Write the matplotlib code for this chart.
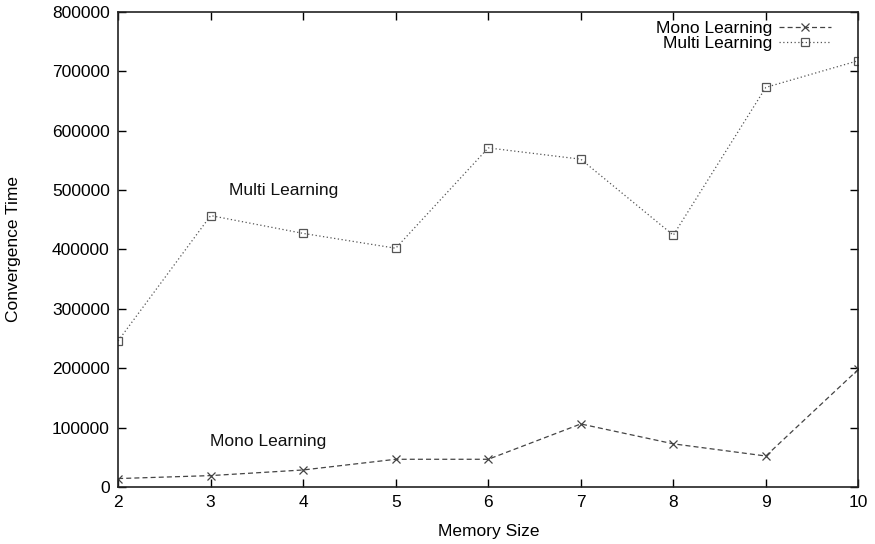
import matplotlib
matplotlib.use("Agg")
import matplotlib.pyplot as plt

plt.rcParams['font.family'] = ['Liberation Sans', 'DejaVu Sans']

memory_size = [2, 3, 4, 5, 6, 7, 8, 9, 10]
mono_time = [14000, 19000, 28500, 46500, 46500, 106000, 72500, 52000, 198000]
multi_time = [246000, 457000, 427000, 402000, 571000, 552000, 424000, 673000, 718000]

fs = 12.5

fig = plt.figure(figsize=(8.75, 5.44), dpi=100)
ax = fig.add_axes([0.135, 0.105, 0.846, 0.873])

ax.plot(memory_size, mono_time, color='#444444', lw=0.9, dashes=(4, 2.5),
        marker='x', ms=6, mew=0.9, label='Mono Learning')
ax.plot(memory_size, multi_time, color='#555555', lw=0.9, dashes=(1, 2),
        marker='s', ms=6, mew=0.9, mfc='none', label='Multi Learning')

ax.text(3.2, 500000, 'Multi Learning', fontsize=fs, va='center', color='#111111')
ax.text(2.99, 77000, 'Mono Learning', fontsize=fs, va='center', color='#111111')

ax.set_xlim(2, 10)
ax.set_ylim(0, 800000)
ax.set_xticks(memory_size)
ax.set_yticks(range(0, 800001, 100000))
ax.tick_params(direction='in', length=6, width=1, top=True, right=True,
               labelsize=fs, pad=6)
for sp in ax.spines.values():
    sp.set_linewidth(1.2)
    sp.set_color('#222222')

ax.set_xlabel('Memory Size', fontsize=fs, labelpad=10)
ax.set_ylabel('Convergence Time', fontsize=fs, labelpad=22)

ax.legend(loc='upper right', frameon=False, markerfirst=False, fontsize=fs,
          handlelength=3.0, handletextpad=0.4, labelspacing=0.0,
          borderaxespad=0.1, bbox_to_anchor=(0.975, 1.0))

fig.savefig('out.png', dpi=100)
